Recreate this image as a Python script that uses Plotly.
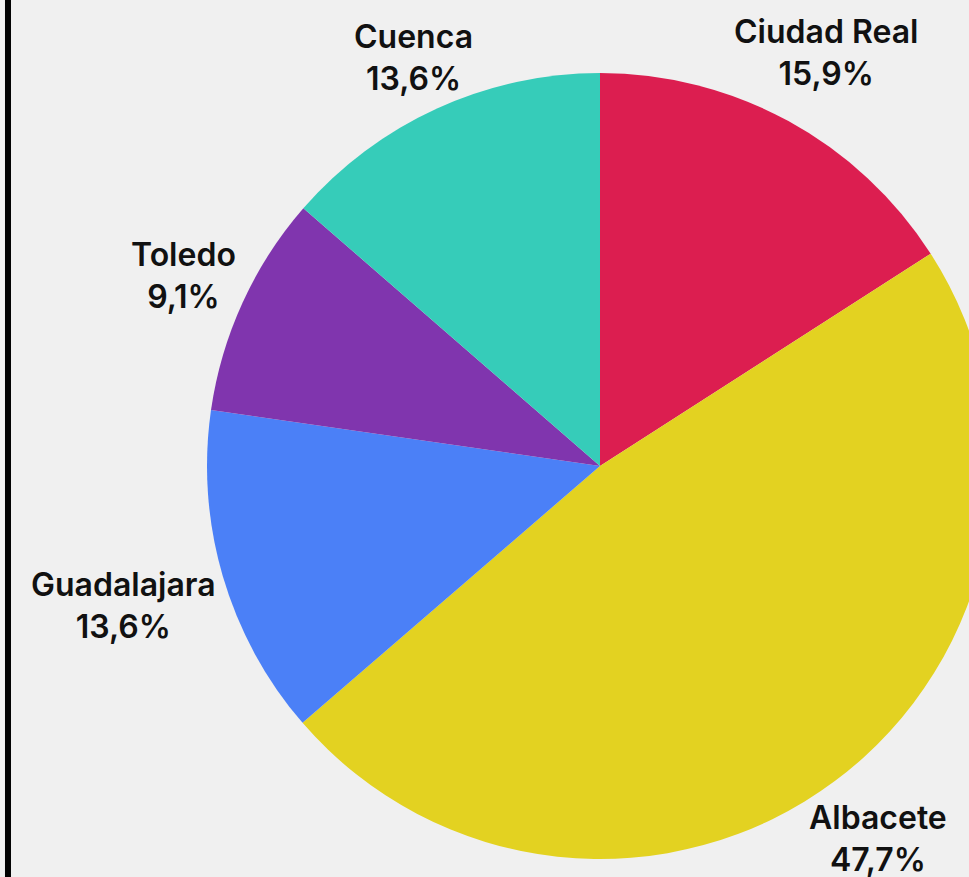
import numpy as np
import plotly.graph_objects as go

provincias = ['Ciudad Real', 'Albacete', 'Guadalajara', 'Toledo', 'Cuenca']
porcentajes = [15.9, 47.7, 13.6, 9.1, 13.6]
colores = ['#DC1E50', '#E3D221', '#4B80F7', '#8035AE', '#36CCB9']

fig = go.Figure(go.Pie(labels=provincias, values=porcentajes,
                       sort=False, direction='clockwise', rotation=0,
                       marker=dict(colors=colores, line=dict(width=0)),
                       textinfo='none', showlegend=False,
                       domain=dict(x=[0, 1], y=[0, 1])))

# etiquetas fuera de cada sector, sobre el ángulo medio
# (la caja del texto queda a una distancia fija del borde)
fuente = dict(family='Inter', size=32, color='#111111', weight=600)
separacion = 6     # px entre el borde y la caja
media_alto = 32    # px
total = sum(porcentajes)
acum = np.cumsum([0] + porcentajes)
medio = (acum[:-1] + acum[1:]) / 2 / total * 2 * np.pi
for nombre, pct, ang in zip(provincias, porcentajes, medio):
    vx, vy = np.sin(ang), np.cos(ang)
    pct_txt = f'{pct:.1f}%'.replace('.', ',')
    media_ancho = 8.4 * max(len(nombre), len(pct_txt) + 1)
    d = separacion + abs(vx) * media_ancho + abs(vy) * media_alto
    fig.add_annotation(x=0.5 + 0.5 * vx, y=0.5 + 0.5 * vy,
                       xref='paper', yref='paper', showarrow=False,
                       text=f'{nombre}<br>{pct_txt}',
                       xanchor='center', yanchor='middle',
                       xshift=d * vx, yshift=d * vy, font=fuente)

# borde del contenedor a la izquierda
fig.add_shape(type='line', xref='paper', yref='paper',
              x0=-0.2532, x1=-0.2532, y0=-0.2, y1=1.2,
              line=dict(color='#000000', width=6))

fig.update_layout(width=1000, height=900,
                  margin=dict(l=207, r=7, t=73, b=41),
                  paper_bgcolor='#F0F0F0', plot_bgcolor='#F0F0F0')

fig.write_html("out.html", config={'displayModeBar': False},
               post_script="document.body.style.margin='0';"
                           "document.body.style.overflow='hidden';"
                           "document.documentElement.style.overflow='hidden';")
